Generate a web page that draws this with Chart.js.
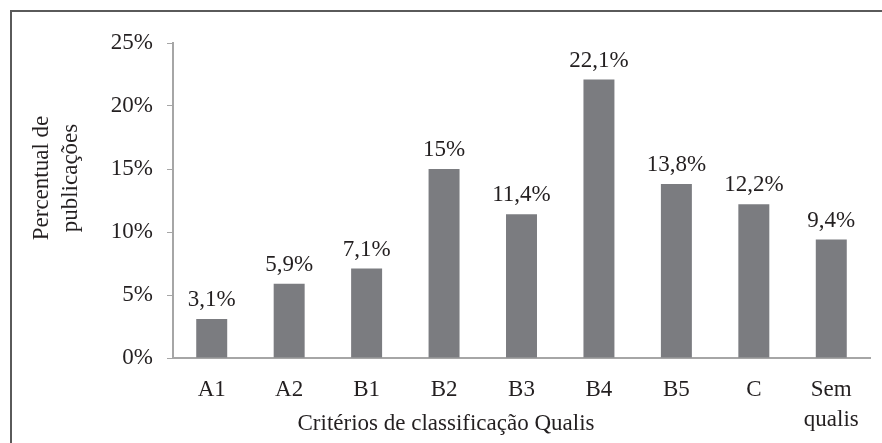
<!DOCTYPE html>
<html>
<head>
<meta charset="utf-8">
<script src="https://cdn.jsdelivr.net/npm/chart.js@4.4.1/dist/chart.umd.min.js"></script>
<style>
html,body{margin:0;padding:0;background:#fff;}
#wrap{width:882px;height:443px;position:relative;}
</style>
</head>
<body>
<div id="wrap"><canvas id="c" width="882" height="443"></canvas></div>
<script>
const categories = ['A1', 'A2', 'B1', 'B2', 'B3', 'B4', 'B5', 'C', ['Sem', 'qualis']];
const percentValues = [3.1, 5.9, 7.1, 15, 11.4, 22.1, 13.8, 12.2, 9.4];
const valueLabels = ['3,1%', '5,9%', '7,1%', '15%', '11,4%', '22,1%', '13,8%', '12,2%', '9,4%'];
const yTitleLines = ['Percentual de', 'publicações'];
const xTitle = 'Critérios de classificação Qualis';

const FONT = "'Liberation Serif', 'Times New Roman', serif";
const FS = 23;
const TEXT = '#231f20';

const framePlugin = {
  id: 'frame',
  beforeDraw(chart) {
    const ctx = chart.ctx;
    ctx.save();
    ctx.fillStyle = '#fff';
    ctx.fillRect(0, 0, chart.width, chart.height);
    ctx.fillStyle = '#5a5a5a';
    ctx.fillRect(10, 10, chart.width - 10, 2);
    ctx.fillRect(10, 10, 2, chart.height - 10);
    ctx.restore();
  }
};

const labelsPlugin = {
  id: 'valueLabels',
  afterDatasetsDraw(chart) {
    const ctx = chart.ctx;
    const meta = chart.getDatasetMeta(0);
    ctx.save();
    ctx.font = FS + 'px ' + FONT;
    ctx.fillStyle = TEXT;
    ctx.textAlign = 'center';
    ctx.textBaseline = 'alphabetic';
    meta.data.forEach((bar, i) => {
      ctx.fillText(valueLabels[i], bar.x, bar.y - 13);
    });
    ctx.restore();
  }
};

const titlesPlugin = {
  id: 'axisTitles',
  afterDraw(chart) {
    const ctx = chart.ctx;
    ctx.save();
    ctx.font = FS + 'px ' + FONT;
    ctx.fillStyle = TEXT;
    ctx.textAlign = 'center';
    ctx.textBaseline = 'middle';
    ctx.fillText(xTitle, 446, 424);
    ctx.translate(0, 178);
    ctx.rotate(-Math.PI / 2);
    ctx.fillText(yTitleLines[0], 0, 42);
    ctx.fillText(yTitleLines[1], 0, 71);
    ctx.restore();
  }
};

new Chart(document.getElementById('c'), {
  type: 'bar',
  data: {
    labels: categories,
    datasets: [{
      data: percentValues,
      backgroundColor: '#7b7c80',
      barPercentage: 0.4,
      categoryPercentage: 1.0
    }]
  },
  options: {
    responsive: false,
    animation: false,
    devicePixelRatio: 1,
    layout: { padding: { top: 43, right: 12, left: 0, bottom: 0 } },
    plugins: { legend: { display: false }, tooltip: { enabled: false } },
    scales: {
      y: {
        min: 0, max: 25,
        ticks: {
          stepSize: 5,
          padding: 14,
          color: TEXT,
          font: { family: FONT, size: FS },
          callback: v => v + '%'
        },
        grid: { display: true, drawOnChartArea: false, drawTicks: true, tickLength: 6, tickColor: '#a6a6a6' },
        border: { display: true, color: '#a6a6a6', width: 2 },
        afterFit: s => { s.width = 173; }
      },
      x: {
        ticks: {
          padding: 17,
          color: TEXT,
          maxRotation: 0,
          font: { family: FONT, size: FS, lineHeight: 1.3 }
        },
        grid: { display: false, drawTicks: false },
        border: { display: true, color: '#a6a6a6', width: 2 },
        afterFit: s => { s.height = 85; }
      }
    }
  },
  plugins: [framePlugin, labelsPlugin, titlesPlugin]
});
</script>
</body>
</html>
